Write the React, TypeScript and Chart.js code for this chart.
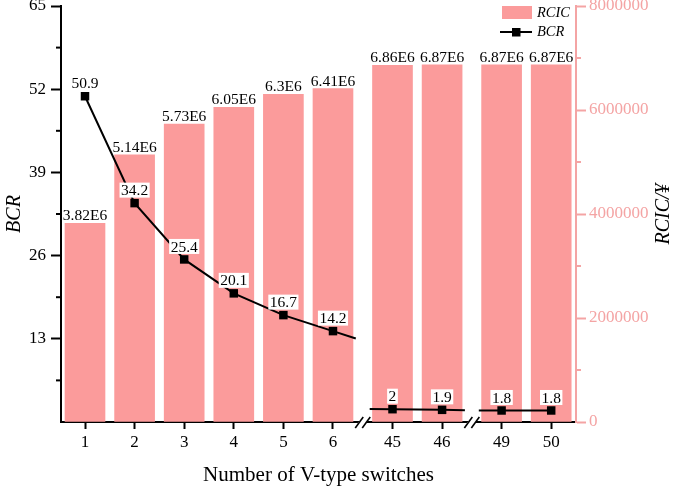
import React, { useEffect, useRef } from 'react';
import { Chart, registerables } from 'chart.js';

Chart.register(...registerables);

// ---- data ----
const categories = [1, 2, 3, 4, 5, 6, 45, 46, 49, 50];
const rcicValues = [3820000, 5140000, 5730000, 6050000, 6300000, 6410000, 6860000, 6870000, 6870000, 6870000];
const bcrValues = [50.9, 34.2, 25.4, 20.1, 16.7, 14.2, 2, 1.9, 1.8, 1.8];
const bcrTicks = [0, 13, 26, 39, 52, 65];
const rcicTicks = [0, 2000000, 4000000, 6000000, 8000000];

// ---- style ----
const FONT = '"Liberation Serif", "Times New Roman", serif';
const BAR_COLOR = '#FB9B9B';
const AXIS_PINK = '#F4A4A4';
const BREAK_GAP = 0.2;
const EXT = 0.46;

// positions on a broken axis, derived from the categories
const positions: number[] = [];
const breaks: number[] = [];
{
  let shift = 0;
  categories.forEach((c, i) => {
    if (i > 0 && c - categories[i - 1] > 1) {
      shift += BREAK_GAP;
      breaks.push(i - 1);
    }
    positions.push(i + 1 + shift);
  });
}

const midpoints = (arr: number[]) => arr.slice(1).map((v, i) => (v + arr[i]) / 2);

const fmtE6 = (v: number) => `${parseFloat((v / 1e6).toFixed(2))}E6`;

const decorPlugin = {
  id: 'decor',
  afterDatasetDraw(chart: any, args: any) {
    if (args.index !== 1) return;
    const ctx = chart.ctx;
    const xS = chart.scales.x;
    const yS = chart.scales.y;
    const n = positions.length;
    ctx.save();
    ctx.strokeStyle = '#000';
    ctx.lineWidth = 2;
    const seg = (x1: number, y1: number, x2: number, y2: number) => {
      ctx.beginPath();
      ctx.moveTo(xS.getPixelForValue(x1), yS.getPixelForValue(y1));
      ctx.lineTo(xS.getPixelForValue(x2), yS.getPixelForValue(y2));
      ctx.stroke();
    };
    breaks.forEach((i) => {
      const a = i - 1;
      if (a >= 0 && !breaks.includes(a)) {
        const s = (bcrValues[i] - bcrValues[a]) / (positions[i] - positions[a]);
        seg(positions[i], bcrValues[i], positions[i] + EXT, bcrValues[i] + s * EXT);
      }
      const j = i + 1;
      const b = j + 1;
      if (b < n && !breaks.includes(j)) {
        const s = (bcrValues[b] - bcrValues[j]) / (positions[b] - positions[j]);
        seg(positions[j], bcrValues[j], positions[j] - EXT, bcrValues[j] - s * EXT);
      }
    });
    ctx.restore();
  },
  afterDatasetsDraw(chart: any) {
    const ctx = chart.ctx;
    ctx.save();
    // bar labels
    ctx.font = `15.5px ${FONT}`;
    ctx.fillStyle = '#000';
    ctx.textAlign = 'center';
    ctx.textBaseline = 'alphabetic';
    chart.getDatasetMeta(1).data.forEach((el: any, i: number) => {
      ctx.fillText(fmtE6(rcicValues[i]), el.x, el.y - 3);
    });
    // BCR labels with white boxes
    ctx.textBaseline = 'middle';
    chart.getDatasetMeta(0).data.forEach((el: any, i: number) => {
      const t = String(bcrValues[i]);
      const w = ctx.measureText(t).width + 3;
      const cy = el.y - 13;
      ctx.fillStyle = '#fff';
      ctx.fillRect(el.x - w / 2, cy - 7.5, w, 15);
      ctx.fillStyle = '#000';
      ctx.fillText(t, el.x, cy + 1);
    });
    ctx.restore();
  },
  afterDraw(chart: any) {
    const ctx = chart.ctx;
    const area = chart.chartArea;
    const yS = chart.scales.y;
    const yR = chart.scales.yR;
    const xS = chart.scales.x;
    ctx.save();
    // minor ticks
    ctx.lineWidth = 2;
    ctx.strokeStyle = '#000';
    midpoints(bcrTicks).forEach((v) => {
      const y = yS.getPixelForValue(v);
      ctx.beginPath();
      ctx.moveTo(area.left - 5, y);
      ctx.lineTo(area.left, y);
      ctx.stroke();
    });
    ctx.strokeStyle = AXIS_PINK;
    midpoints(rcicTicks).forEach((v) => {
      const y = yR.getPixelForValue(v);
      ctx.beginPath();
      ctx.moveTo(area.right, y);
      ctx.lineTo(area.right + 5, y);
      ctx.stroke();
    });
    // break marks
    breaks.forEach((i) => {
      const cx = xS.getPixelForValue((positions[i] + positions[i + 1]) / 2);
      const by = area.bottom;
      ctx.fillStyle = '#fff';
      ctx.beginPath();
      ctx.moveTo(cx - 7, by + 3);
      ctx.lineTo(cx + 1, by + 3);
      ctx.lineTo(cx + 7, by - 3);
      ctx.lineTo(cx - 1, by - 3);
      ctx.closePath();
      ctx.fill();
      ctx.strokeStyle = '#000';
      ctx.lineWidth = 1.6;
      [-3.5, 3.5].forEach((o) => {
        ctx.beginPath();
        ctx.moveTo(cx + o - 4, by + 6);
        ctx.lineTo(cx + o + 4, by - 5);
        ctx.stroke();
      });
    });
    // legend
    ctx.fillStyle = BAR_COLOR;
    ctx.fillRect(502, 6, 30, 13);
    ctx.strokeStyle = '#000';
    ctx.lineWidth = 2;
    ctx.beginPath();
    ctx.moveTo(500, 32);
    ctx.lineTo(532, 32);
    ctx.stroke();
    ctx.fillStyle = '#000';
    ctx.fillRect(512, 28, 8.5, 8.5);
    ctx.font = `italic 14.5px ${FONT}`;
    ctx.textAlign = 'left';
    ctx.textBaseline = 'middle';
    ctx.fillText('RCIC', 537, 13);
    ctx.fillText('BCR', 537, 32);
    // titles
    const cyMid = (area.top + area.bottom) / 2;
    ctx.textAlign = 'center';
    ctx.font = `21px ${FONT}`;
    ctx.fillText('Number of V-type switches', (area.left + area.right) / 2, 475);
    ctx.font = `italic 20px ${FONT}`;
    ctx.save();
    ctx.translate(15, cyMid);
    ctx.rotate(-Math.PI / 2);
    ctx.fillText('BCR', 0, 0);
    ctx.restore();
    ctx.save();
    ctx.translate(664, cyMid);
    ctx.rotate(-Math.PI / 2);
    ctx.fillText('RCIC/¥', 0, 0);
    ctx.restore();
    ctx.restore();
  },
};

export default function App() {
  const ref = useRef<HTMLCanvasElement | null>(null);
  useEffect(() => {
    document.body.style.margin = '0';
    const canvas = ref.current;
    if (!canvas) return;
    const chart = new Chart(canvas, {
      type: 'bar',
      data: {
        datasets: [
          {
            type: 'line',
            label: 'BCR',
            data: positions.map((x, i) => ({ x, y: bcrValues[i] })),
            xAxisID: 'x',
            yAxisID: 'y',
            borderColor: '#000',
            borderWidth: 2,
            backgroundColor: '#000',
            pointStyle: 'rect',
            pointRadius: 6,
            pointBackgroundColor: '#000',
            pointBorderColor: '#000',
            pointBorderWidth: 0,
            tension: 0,
            segment: {
              borderColor: (c: any) => (breaks.includes(c.p0DataIndex) ? 'rgba(0,0,0,0)' : '#000'),
            },
          } as any,
          {
            type: 'bar',
            label: 'RCIC',
            data: positions.map((x, i) => ({ x, y: rcicValues[i] })),
            xAxisID: 'x',
            yAxisID: 'yR',
            backgroundColor: BAR_COLOR,
            borderWidth: 0,
            barThickness: 40,
          } as any,
        ],
      },
      options: {
        animation: false,
        responsive: false,
        maintainAspectRatio: false,
        layout: { padding: { top: 6, left: 0, right: 0, bottom: 0 } },
        plugins: { legend: { display: false }, tooltip: { enabled: false } },
        scales: {
          x: {
            type: 'linear',
            position: 'bottom',
            offset: false,
            min: positions[0] - 0.484,
            max: positions[positions.length - 1] + 0.5,
            afterBuildTicks: (s: any) => {
              s.ticks = positions.map((v) => ({ value: v }));
            },
            afterFit: (s: any) => {
              s.height = 66;
              s.paddingLeft = 0;
              s.paddingRight = 0;
            },
            ticks: {
              autoSkip: false,
              maxRotation: 0,
              padding: 3,
              color: '#000',
              font: { family: FONT, size: 17 },
              callback: (_v: any, i: number) => String(categories[i]),
            },
            grid: {
              display: true,
              offset: false,
              drawOnChartArea: false,
              drawTicks: true,
              tickLength: 7,
              tickWidth: 2,
              color: '#000',
            },
            border: { display: true, color: '#000', width: 2 },
          } as any,
          y: {
            type: 'linear',
            position: 'left',
            min: 0,
            max: 65,
            afterBuildTicks: (s: any) => {
              s.ticks = bcrTicks.map((v) => ({ value: v }));
            },
            afterFit: (s: any) => {
              s.width = 61;
              s.paddingTop = 0;
              s.paddingBottom = 0;
            },
            ticks: {
              padding: 5,
              color: '#000',
              font: { family: FONT, size: 17 },
              callback: (v: any) => (v === 0 ? '' : String(v)),
            },
            grid: {
              display: true,
              drawOnChartArea: false,
              drawTicks: true,
              tickLength: 10,
              tickWidth: 2,
              color: '#000',
              tickColor: (c: any) => (c.tick && c.tick.value === 0 ? 'rgba(0,0,0,0)' : '#000'),
            },
            border: { display: true, color: '#000', width: 2 },
          } as any,
          yR: {
            type: 'linear',
            position: 'right',
            min: 0,
            max: 8000000,
            afterBuildTicks: (s: any) => {
              s.ticks = rcicTicks.map((v) => ({ value: v }));
            },
            afterFit: (s: any) => {
              s.width = 109;
              s.paddingTop = 0;
              s.paddingBottom = 0;
            },
            ticks: {
              padding: 3,
              color: AXIS_PINK,
              font: { family: FONT, size: 17 },
              callback: (v: any) => String(v),
            },
            grid: {
              display: true,
              drawOnChartArea: false,
              drawTicks: true,
              tickLength: 10,
              tickWidth: 2,
              color: AXIS_PINK,
            },
            border: { display: true, color: AXIS_PINK, width: 2 },
          } as any,
        },
      },
      plugins: [decorPlugin],
    });
    return () => chart.destroy();
  }, []);
  return <canvas ref={ref} width={685} height={488} style={{ display: 'block', width: 685, height: 488 }} />;
}
